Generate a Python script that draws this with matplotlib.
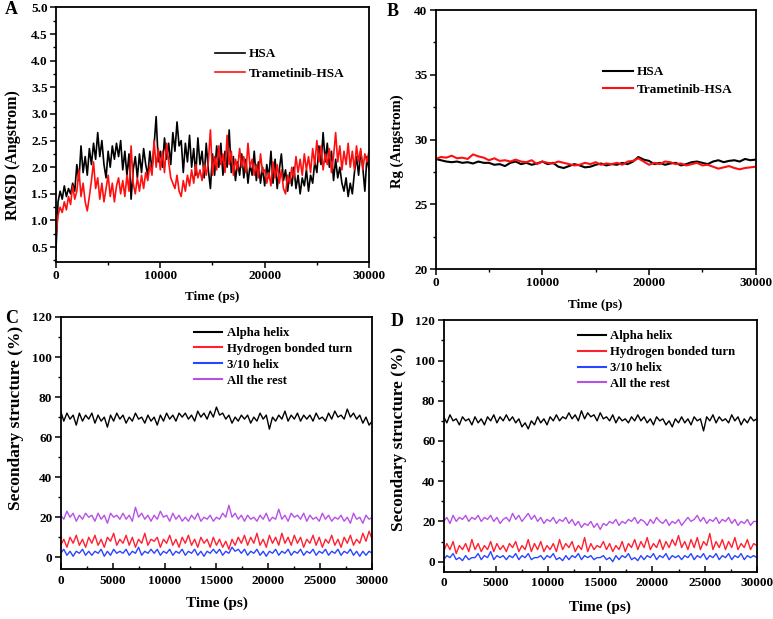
import numpy as np
import matplotlib
matplotlib.use('agg')
import matplotlib.pyplot as plt
from matplotlib.ticker import MultipleLocator

plt.rcParams['font.family'] = ['Liberation Serif', 'DejaVu Serif']
plt.rcParams['font.weight'] = 'bold'
plt.rcParams['axes.labelweight'] = 'bold'

# ---- panel A: RMSD, sampled every 200 ps ----
rmsd_hsa = [
    0.45, 1.35, 1.55, 1.40, 1.65, 1.45, 1.60, 1.50, 1.70, 1.55,
    2.05, 1.75, 2.40, 1.90, 2.20, 1.85, 2.35, 2.05, 2.45, 2.15,
    2.65, 2.20, 2.50, 2.05, 1.80, 2.30, 2.00, 2.40, 2.15, 2.45,
    2.20, 2.50, 1.95, 2.30, 1.85, 2.25, 1.40, 1.95, 2.20, 1.80,
    2.25, 1.90, 2.35, 2.05, 1.85, 2.30, 1.95, 2.40, 2.95, 2.10,
    2.30, 2.00, 2.55, 2.15, 2.45, 2.05, 2.65, 2.30, 2.85, 2.40,
    2.50, 1.90, 2.45, 2.10, 2.60, 2.00, 2.35, 1.85, 2.55, 2.05,
    2.30, 1.80, 2.45, 1.95, 1.60, 2.25, 1.85, 2.40, 2.00, 2.45,
    1.85, 2.30, 2.00, 2.70, 1.90, 2.20, 1.75, 2.10, 1.85, 2.25,
    1.80, 2.15, 1.70, 2.05, 1.85, 2.30, 1.75, 2.10, 1.70, 2.00,
    1.65, 2.05, 1.80, 2.30, 1.70, 2.15, 1.60, 1.95, 2.25, 1.75,
    1.95, 1.55, 1.90, 1.65, 2.00, 1.60, 1.85, 1.50, 1.80, 1.65,
    1.95, 1.55, 1.85, 1.70, 2.10, 1.90, 2.40, 2.05, 2.65, 2.10,
    2.45, 2.00, 2.30, 1.75, 2.15, 1.80, 2.00, 1.70, 1.55, 1.80,
    1.45, 1.70, 1.50, 1.90, 2.20, 1.85, 2.30, 2.00, 1.55, 2.20,
    1.95]
rmsd_tram = [
    0.70, 1.10, 1.25, 1.15, 1.35, 1.20, 1.45, 1.30, 1.65, 1.40,
    1.55, 1.95, 1.45, 1.70, 1.35, 1.18, 1.45, 1.75, 2.10, 1.60,
    1.80, 1.40, 1.70, 1.35, 1.60, 1.85, 1.45, 1.70, 1.35, 1.65,
    1.80, 1.50, 1.75, 1.45, 1.85, 1.55, 2.40, 1.70, 1.50, 1.80,
    1.55, 1.85, 1.60, 1.90, 1.75, 2.05, 1.85, 2.50, 2.00, 2.35,
    1.95, 2.30, 1.90, 2.45, 2.10, 1.80, 1.70, 1.60, 1.85, 1.55,
    1.45, 1.75, 1.55, 1.85, 1.65, 1.95, 1.70, 2.05, 1.80, 1.95,
    1.75, 2.05, 1.85, 2.10, 2.70, 1.85, 2.20, 1.95, 2.40, 2.05,
    2.25, 1.90, 2.60, 2.05, 2.30, 1.85, 2.15, 1.95, 2.35, 2.00,
    2.20, 1.90, 2.45, 2.00, 2.15, 1.85, 2.05, 1.80, 2.25, 1.90,
    1.95, 1.70, 1.90, 1.65, 2.10, 1.80, 2.05, 1.70, 1.95, 1.60,
    1.50, 1.85, 1.70, 2.00, 1.80, 2.20, 1.90, 2.15, 1.85, 2.25,
    1.95, 2.20, 1.90, 2.35, 2.05, 2.50, 2.10, 2.40, 1.95, 2.25,
    2.05, 2.35, 1.90, 2.20, 2.65, 2.10, 2.40, 1.95, 2.30, 2.05,
    2.45, 2.00, 2.30, 1.95, 2.40, 2.10, 2.35, 1.95, 2.25, 2.10,
    2.30]

# ---- panel B: Rg, sampled every 500 ps ----
rg_hsa = [
    28.5, 28.4, 28.3, 28.25, 28.3, 28.2, 28.25, 28.15, 28.3, 28.2,
    28.2, 28.05, 28.1, 27.95, 28.2, 28.3, 28.1, 28.2, 28.05, 28.15,
    28.3, 28.1, 28.2, 27.9, 27.8, 27.95, 28.1, 28.0, 27.85, 27.9,
    28.05, 28.15, 28.0, 28.1, 28.05, 28.2, 28.1, 28.3, 28.65, 28.45,
    28.35, 28.1, 28.2, 28.05, 28.15, 28.2, 28.0, 28.1, 28.25, 28.3,
    28.2, 28.1, 28.3, 28.4, 28.25, 28.35, 28.4, 28.3, 28.5, 28.4,
    28.45]
rg_tram = [
    28.5, 28.65, 28.6, 28.75, 28.55, 28.6, 28.5, 28.85, 28.7, 28.6,
    28.4, 28.55, 28.35, 28.4, 28.3, 28.45, 28.3, 28.25, 28.4, 28.1,
    28.3, 28.2, 28.15, 28.3, 28.2, 28.1, 28.0, 28.05, 28.2, 28.1,
    28.25, 28.05, 28.15, 28.1, 28.2, 28.05, 28.3, 28.35, 28.55, 28.3,
    28.05, 28.2, 28.1, 28.3, 28.25, 28.1, 28.15, 28.0, 28.1, 28.2,
    28.0, 28.05, 27.9, 27.75, 27.85, 27.95, 27.8, 27.7, 27.8, 27.85,
    27.9]

# ---- panels C / D: secondary structure (%), sampled every 300 ps ----
c_alpha = [
    73, 68, 72, 69, 71, 66, 72, 68, 71, 69,
    72, 67, 71, 68, 70, 65, 71, 68, 72, 69,
    71, 67, 70, 68, 72, 69, 70, 67, 71, 68,
    70, 66, 71, 68, 72, 69, 71, 68, 72, 70,
    72, 69, 71, 68, 73, 70, 72, 69, 73, 70,
    75, 71, 72, 69, 71, 67, 70, 68, 71, 69,
    71, 67, 70, 68, 72, 69, 71, 64, 70, 68,
    71, 69, 73, 68, 71, 69, 72, 68, 71, 69,
    71, 68, 72, 69, 70, 68, 72, 69, 73, 70,
    71, 69, 74, 70, 72, 69, 71, 67, 70, 66,
    68]
c_turn = [
    6, 9, 5, 10, 7, 11, 6, 9, 5, 10,
    7, 11, 6, 9, 5, 10, 8, 12, 6, 9,
    7, 11, 6, 10, 5, 9, 7, 12, 6, 9,
    8, 10, 5, 9, 7, 11, 6, 9, 5, 10,
    7, 11, 6, 9, 5, 10, 7, 9, 5, 10,
    6, 9, 5, 8, 4, 9, 6, 10, 7, 11,
    6, 10, 7, 12, 6, 9, 5, 11, 7, 10,
    6, 12, 7, 10, 6, 11, 7, 10, 5, 9,
    7, 11, 6, 10, 5, 9, 7, 11, 6, 9,
    5, 10, 7, 11, 6, 9, 7, 12, 8, 13,
    9]
c_310 = [
    2, 4, 1, 3, 0.5, 3, 2, 4, 1, 3,
    1, 3, 2, 4, 0.5, 3, 1, 4, 2, 3,
    2, 4, 1, 3, 2, 5, 1, 3, 2, 4,
    2, 4, 1, 3, 2, 4, 1, 3, 2, 4,
    1, 3, 2, 4, 1, 3, 0.5, 3, 2, 4,
    2, 4, 1, 3, 2, 5, 3, 4, 2, 4,
    1, 3, 2, 4, 1, 3, 0.5, 3, 2, 4,
    1, 3, 2, 4, 1, 3, 2, 4, 1, 3,
    2, 4, 1, 3, 2, 4, 1, 3, 2, 4,
    1, 3, 2, 4, 1, 3, 0.5, 3, 1, 3,
    2]
c_rest = [
    21, 19, 23, 20, 22, 18, 21, 19, 22, 20,
    21, 18, 22, 19, 21, 17, 22, 20, 21, 19,
    22, 19, 21, 18, 25, 20, 22, 19, 21, 18,
    21, 19, 23, 20, 21, 18, 22, 19, 21, 18,
    20, 18, 21, 19, 22, 18, 20, 19, 21, 18,
    20, 19, 22, 20, 26, 20, 22, 19, 21, 18,
    21, 19, 20, 18, 21, 19, 22, 18, 20, 19,
    24, 19, 21, 18, 22, 20, 21, 19, 22, 18,
    21, 19, 20, 18, 22, 19, 21, 18, 20, 19,
    21, 18, 20, 17, 22, 19, 20, 17, 21, 19,
    20]

d_alpha = [
    72, 69, 73, 70, 71, 68, 72, 70, 71, 68,
    72, 69, 71, 68, 72, 70, 73, 69, 72, 70,
    73, 70, 72, 69, 71, 67, 69, 66, 70, 68,
    72, 69, 71, 68, 72, 70, 73, 70, 72, 71,
    74, 71, 73, 70, 75, 71, 74, 72, 73, 70,
    74, 71, 72, 70, 73, 69, 72, 70, 71, 69,
    72, 70, 73, 70, 72, 69, 71, 68, 72, 70,
    71, 68, 70, 67, 71, 69, 72, 69, 71, 68,
    72, 70, 71, 65, 72, 70, 73, 69, 72, 70,
    71, 69, 73, 70, 72, 68, 71, 69, 72, 70,
    71]
d_turn = [
    5, 9, 6, 10, 4, 8, 6, 9, 5, 11,
    6, 9, 5, 8, 6, 10, 5, 9, 6, 8,
    5, 9, 7, 10, 5, 8, 6, 11, 5, 9,
    6, 10, 5, 8, 6, 9, 5, 11, 6, 9,
    7, 10, 5, 8, 6, 12, 5, 9, 6, 8,
    7, 10, 6, 9, 5, 8, 6, 10, 5, 9,
    7, 11, 6, 10, 7, 12, 6, 9, 7, 11,
    6, 10, 7, 11, 8, 13, 7, 10, 6, 11,
    7, 12, 6, 10, 8, 14, 6, 10, 7, 11,
    6, 10, 7, 12, 6, 9, 7, 11, 6, 9,
    8]
d_310 = [
    1, 3, 2, 4, 1, 2, 0.5, 3, 1, 2,
    2, 4, 1, 3, 2, 5, 1, 3, 2, 3,
    1, 3, 2, 4, 1, 3, 2, 4, 1, 2,
    2, 3, 1, 3, 2, 4, 1, 2, 0.5, 3,
    1, 3, 2, 4, 1, 3, 2, 3, 1, 2,
    2, 3, 1, 2, 0, 3, 1, 3, 2, 4,
    1, 2, 0.5, 3, 1, 3, 2, 4, 1, 3,
    2, 4, 1, 3, 2, 3, 1, 3, 2, 4,
    1, 3, 2, 4, 1, 3, 2, 4, 1, 3,
    2, 4, 1, 3, 2, 4, 1, 3, 2, 3,
    2]
d_rest = [
    20, 22, 19, 23, 20, 22, 21, 23, 20, 22,
    21, 23, 20, 22, 21, 23, 20, 22, 19, 21,
    22, 20, 24, 21, 23, 20, 22, 24, 21, 23,
    20, 22, 19, 21, 20, 22, 19, 21, 20, 22,
    19, 21, 18, 20, 17, 19, 18, 20, 17, 19,
    16, 19, 18, 20, 19, 21, 18, 20, 19, 21,
    20, 22, 19, 21, 20, 18, 21, 19, 22, 20,
    19, 21, 18, 20, 19, 21, 18, 20, 22, 20,
    21, 23, 20, 22, 19, 21, 20, 22, 19, 21,
    20, 22, 19, 21, 18, 20, 19, 21, 18, 20,
    20]

t_a = np.linspace(0, 30000, len(rmsd_hsa))
t_b = np.linspace(0, 30000, len(rg_hsa))
t_cd = np.linspace(0, 30000, len(c_alpha))

ss_labels = ['Alpha helix', 'Hydrogen bonded turn', '3/10 helix', 'All the rest']
ss_colors = ['black', '#ff2030', '#2a45ff', '#b850e8']

fig = plt.figure(figsize=(7.73, 6.19), dpi=100)


def style(ax, xminor, ymajor, yminor, xin=False):
    for s in ax.spines.values():
        s.set_linewidth(1.3)
    ax.xaxis.set_minor_locator(MultipleLocator(xminor))
    ax.yaxis.set_major_locator(MultipleLocator(ymajor))
    ax.yaxis.set_minor_locator(MultipleLocator(yminor))
    ax.tick_params(axis='both', which='major', direction='out', length=4,
                   width=1.1, labelsize=9.5, pad=2)
    ax.tick_params(axis='both', which='minor', direction='out', length=2,
                   width=1.0)
    if xin:
        ax.tick_params(axis='x', which='both', direction='in')
        ax.tick_params(axis='x', which='major', pad=4)
    for lab in ax.get_xticklabels() + ax.get_yticklabels():
        lab.set_fontweight('bold')


# A
axA = fig.add_axes([0.0724, 0.5767, 0.405, 0.4113])
axA.plot(t_a, rmsd_hsa, color='black', lw=1.2, label='HSA')
axA.plot(t_a, rmsd_tram, color='#ff1010', lw=1.2, label='Trametinib-HSA')
axA.set_xlim(0, 30000)
axA.set_ylim(0.22, 5.0)
axA.set_xticks([0, 10000, 20000, 30000])
style(axA, 5000, 0.5, 0.25)
axA.set_xlabel('Time (ps)', fontsize=9.5)
axA.set_ylabel('RMSD (Angstrom)', fontsize=11.5)
axA.xaxis.set_label_coords(0.498, -0.112)
axA.yaxis.set_label_coords(-0.112, 0.42)
axA.legend(loc='upper left', bbox_to_anchor=(0.508, 0.84), frameon=False,
           fontsize=9.5, handlelength=2.3, handletextpad=0.25,
           labelspacing=0.55, borderpad=0, borderaxespad=0)

# B
axB = fig.add_axes([0.5636, 0.5654, 0.414, 0.4184])
axB.plot(t_b, rg_hsa, color='black', lw=1.5, label='HSA')
axB.plot(t_b, rg_tram, color='#ff1010', lw=1.5, label='Trametinib-HSA')
axB.set_xlim(0, 30000)
axB.set_ylim(20, 40)
axB.set_xticks([0, 10000, 20000, 30000])
style(axB, 5000, 5, 2.5)
axB.set_xlabel('Time (ps)', fontsize=9.5)
axB.set_ylabel('Rg (Angstrom)', fontsize=10.5)
axB.xaxis.set_label_coords(0.498, -0.114)
axB.yaxis.set_label_coords(-0.100, 0.494)
axB.legend(loc='upper left', bbox_to_anchor=(0.523, 0.784), frameon=False,
           fontsize=9.5, handlelength=2.3, handletextpad=0.25,
           labelspacing=0.4, borderpad=0, borderaxespad=0)

# C and D
panels = [
    ([0.0785, 0.0803, 0.403, 0.4076], [c_alpha, c_turn, c_310, c_rest], -6,
     (-0.118, 0.60), (0.50, -0.106)),
    ([0.574, 0.0764, 0.405, 0.4062], [d_alpha, d_turn, d_310, d_rest], -5,
     (-0.117, 0.528), (0.50, -0.115)),
]
for rect, series, ybot, ylc, xlc in panels:
    ax = fig.add_axes(rect)
    for vals, lab, col in zip(series, ss_labels, ss_colors):
        ax.plot(t_cd, vals, color=col, lw=1.0, label=lab)
    ax.set_xlim(0, 30000)
    ax.set_ylim(ybot, 120)
    ax.set_xticks(np.arange(0, 30001, 5000))
    style(ax, 2500, 20, 10, xin=True)
    ax.set_xlabel('Time (ps)', fontsize=11)
    ax.set_ylabel('Secondary structure (%)', fontsize=12.5)
    ax.xaxis.set_label_coords(*xlc)
    ax.yaxis.set_label_coords(*ylc)
    leg = ax.legend(loc='upper left', bbox_to_anchor=(0.428, 0.96),
                    frameon=False, fontsize=9.2, handlelength=2.2,
                    handletextpad=0.35, labelspacing=0.3, borderpad=0,
                    borderaxespad=0)
    for h in leg.get_lines():
        h.set_linewidth(1.5)

# panel letters
for x, y, s in [(0.006, 0.984, 'A'), (0.500, 0.982, 'B'),
                (0.006, 0.486, 'C'), (0.506, 0.481, 'D')]:
    fig.text(x, y, s, fontsize=13, fontweight='bold', va='center')

fig.savefig('out.png', dpi=100)
